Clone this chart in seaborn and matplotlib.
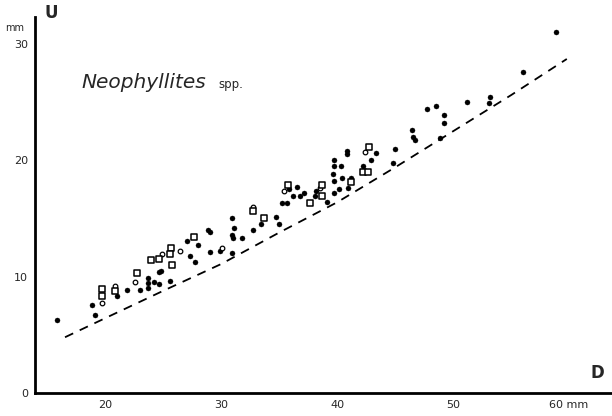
import numpy as np
import pandas as pd
import matplotlib
matplotlib.use("Agg")
import matplotlib.pyplot as plt
import seaborn as sns

# Neophyllites spp. : U (umbilicus, mm) against D (diameter, mm)
filled_D = [15.8, 18.85, 19.1, 20.95, 21.85, 22.95, 23.65, 23.65, 23.7, 24.2,
            24.65, 24.6, 24.75, 25.6, 27.0, 28.0, 27.3, 27.7, 28.8, 29.0,
            29.0, 29.9, 30.9, 31.1, 30.9, 31.0, 31.8, 30.9, 32.75, 33.4,
            34.7, 35.0, 35.2, 35.65, 35.8, 36.2, 36.5, 36.8, 37.15, 38.2,
            38.1, 39.1, 39.6, 39.7, 40.1, 39.7, 39.7, 39.7, 40.3, 40.4,
            40.8, 40.8, 40.9, 41.2, 42.2, 42.9, 43.3, 44.8, 45.0, 46.4,
            46.5, 46.7, 47.7, 48.5, 49.2, 49.2, 48.9, 51.2, 53.2, 53.1,
            56.0, 58.9]
filled_U = [6.3, 7.6, 6.75, 8.3, 8.85, 8.85, 9.0, 9.9, 9.5, 9.55,
            9.35, 10.4, 10.5, 9.65, 13.1, 12.75, 11.8, 11.3, 14.0, 13.8,
            12.1, 12.2, 15.0, 14.2, 13.6, 13.35, 13.35, 12.0, 14.0, 14.5,
            15.1, 14.5, 16.3, 16.3, 17.5, 16.9, 17.7, 16.9, 17.2, 17.4,
            16.9, 16.4, 18.8, 18.2, 17.5, 17.2, 19.5, 20.0, 19.5, 18.5,
            20.8, 20.5, 17.6, 18.5, 19.5, 20.0, 20.6, 19.75, 21.0, 22.6,
            22.0, 21.7, 24.4, 24.7, 23.9, 23.2, 21.9, 25.0, 25.4, 24.9,
            27.6, 31.0]

circle_D = [19.65, 20.8, 22.55, 24.85, 26.4, 30.05, 32.7, 35.4, 38.5, 42.4]
circle_U = [7.75, 9.2, 9.55, 11.95, 12.2, 12.5, 16.0, 17.4, 17.6, 20.75]

square_D = [19.7, 19.7, 20.8, 22.7, 23.9, 24.65, 25.65, 25.6, 25.7, 27.6,
            32.7, 33.7, 35.7, 37.6, 38.65, 38.7, 41.2, 42.2, 42.65, 42.7]
square_U = [8.95, 8.35, 8.8, 10.3, 11.4, 11.5, 12.5, 11.95, 11.0, 13.4,
            15.6, 15.0, 17.9, 16.3, 17.9, 16.9, 18.1, 19.0, 19.0, 21.1]

# lower limit (dashed line)
limit_D = [16.5, 20.1, 25.0, 30.0, 35.0, 40.0, 45.0, 50.0, 55.0, 59.8]
limit_U = [4.8, 6.5, 8.8, 11.1, 13.8, 16.4, 19.4, 22.5, 25.6, 28.7]

sns.set_style("white")
plt.rcParams['font.family'] = ['DejaVu Sans']

fig = plt.figure(figsize=(6.12, 4.16), dpi=100)
ax = fig.add_axes([0.057, 0.055, 0.943, 0.904])

df_lim = pd.DataFrame({"D": limit_D, "U": limit_U})
sns.lineplot(data=df_lim, x="D", y="U", ax=ax, color="black", lw=1.3,
             linestyle=(0, (5, 4)), sort=False)

sns.scatterplot(x=filled_D, y=filled_U, ax=ax, marker="o", s=13,
                color="black", edgecolor="black", linewidth=0.3)
sns.scatterplot(x=circle_D, y=circle_U, ax=ax, marker="o", s=11,
                facecolor="white", edgecolor="black", linewidth=0.9)
sns.scatterplot(x=square_D, y=square_U, ax=ax, marker="s", s=17,
                facecolor="white", edgecolor="black", linewidth=1.1)

ax.set_xlim(13.9, 63.7)
ax.set_ylim(0, 32.3)
ax.set_xticks([20, 30, 40, 50, 60])
ax.set_xticklabels(["20", "30", "40", "50", "60 mm"])
ax.set_yticks([0, 10, 20, 30])
ax.set_yticklabels(["0", "10", "20", "30"])
ax.set_xlabel("")
ax.set_ylabel("")
for side in ["top", "right"]:
    ax.spines[side].set_visible(False)
for side in ["left", "bottom"]:
    ax.spines[side].set_linewidth(2)
    ax.spines[side].set_color("black")
ax.tick_params(axis="y", direction="out", length=4, width=1.5, labelsize=8, pad=1)
ax.tick_params(axis="x", direction="out", length=2, width=1, labelsize=8, pad=3)
ax.patch.set_alpha(0)

fig.text(51 / 612, 1 - 13 / 416, "U", fontsize=12, fontweight="bold",
         ha="center", va="center")
fig.text(15 / 612, 1 - 28 / 416, "mm", fontsize=7, ha="center", va="center")
fig.text(597 / 612, 1 - 373 / 416, "D", fontsize=12, fontweight="bold",
         ha="center", va="center")
ax.text(17.9, 26.7, "Neophyllites", fontsize=14.5, style="italic",
        ha="left", va="center")
ax.text(29.7, 26.5, "spp.", fontsize=8.5, ha="left", va="center")

fig.savefig("out.png", dpi=100)
